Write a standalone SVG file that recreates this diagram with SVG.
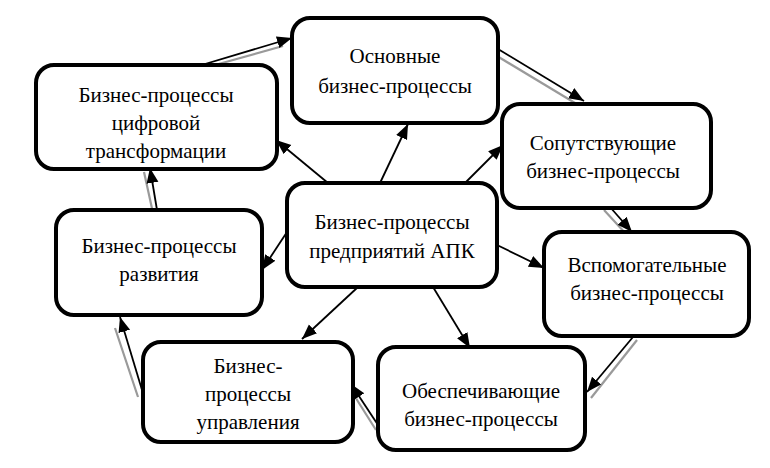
<svg xmlns="http://www.w3.org/2000/svg" width="770" height="468" viewBox="0 0 770 468">
<defs>
<marker id="ah" markerUnits="userSpaceOnUse" markerWidth="18" markerHeight="14" refX="15" refY="6" orient="auto">
<path d="M0,0 L15,6 L0,12 Z" fill="#000"/>
</marker>
<style>
.box{fill:#fff;stroke:#000;stroke-width:4}
.t{font-family:"Liberation Serif","Times New Roman",serif;font-size:21px;fill:#000;text-anchor:middle}
.a{stroke:#000;stroke-width:1.8;fill:none;marker-end:url(#ah)}
.g{stroke:#9a9a9a;stroke-width:2.2;fill:none}
</style>
</defs>
<rect width="770" height="468" fill="#fff"/>
<g id="connectors">
<line class="a" x1="380" y1="183" x2="408" y2="124"/>
<line class="a" x1="328" y1="183" x2="276" y2="140"/>
<line class="a" x1="465" y1="183" x2="503" y2="145"/>
<line class="a" x1="497" y1="245" x2="544" y2="268"/>
<line class="a" x1="433" y1="287" x2="470" y2="348"/>
<line class="a" x1="358" y1="287" x2="302" y2="339"/>
<line class="a" x1="287" y1="232" x2="262" y2="270"/>
<line class="g" x1="197" y1="70" x2="283" y2="46"/>
<line class="a" x1="195" y1="67" x2="292" y2="38"/>
<line class="g" x1="492" y1="53" x2="575" y2="103"/>
<line class="a" x1="498" y1="49" x2="584" y2="101"/>
<line class="g" x1="604" y1="210" x2="627" y2="235"/>
<line class="a" x1="610" y1="207" x2="632" y2="232"/>
<line class="g" x1="637" y1="340" x2="591" y2="398"/>
<line class="a" x1="633" y1="337" x2="587" y2="392"/>
<line class="g" x1="376" y1="430" x2="352" y2="392"/>
<line class="a" x1="378" y1="425" x2="351" y2="384"/>
<line class="g" x1="138" y1="397" x2="115" y2="328"/>
<line class="a" x1="142" y1="390" x2="120" y2="317"/>
<line class="g" x1="153" y1="213" x2="144" y2="172"/>
<line class="a" x1="157" y1="210" x2="150" y2="168"/>
</g>
<g id="n_main">
<rect class="box" x="292" y="18" width="206" height="105" rx="18"/>
<text class="t" x="395" y="63">Основные</text>
<text class="t" x="395" y="93">бизнес-процессы</text>
</g>
<g id="n_digital">
<rect class="box" x="36" y="65" width="241" height="104" rx="18"/>
<text class="t" x="156" y="102">Бизнес-процессы</text>
<text class="t" x="156" y="130">цифровой</text>
<text class="t" x="156" y="158">трансформации</text>
</g>
<g id="n_assoc">
<rect class="box" x="502" y="104" width="209" height="104" rx="18"/>
<text class="t" x="603" y="150">Сопутствующие</text>
<text class="t" x="603" y="178">бизнес-процессы</text>
</g>
<g id="n_center">
<rect class="box" x="287" y="183" width="210" height="104" rx="18"/>
<text class="t" x="392" y="229">Бизнес-процессы</text>
<text class="t" x="392" y="258">предприятий АПК</text>
</g>
<g id="n_dev">
<rect class="box" x="56" y="210" width="206" height="105" rx="18"/>
<text class="t" x="159" y="253">Бизнес-процессы</text>
<text class="t" x="159" y="281">развития</text>
</g>
<g id="n_aux">
<rect class="box" x="544" y="232" width="205" height="104" rx="18"/>
<text class="t" x="647" y="272">Вспомогательные</text>
<text class="t" x="647" y="300">бизнес-процессы</text>
</g>
<g id="n_mgmt">
<rect class="box" x="143" y="342" width="210" height="100" rx="18"/>
<text class="t" x="248" y="373">Бизнес-</text>
<text class="t" x="248" y="401">процессы</text>
<text class="t" x="248" y="429">управления</text>
</g>
<g id="n_supp">
<rect class="box" x="378" y="347" width="207" height="103" rx="18"/>
<text class="t" x="481" y="398">Обеспечивающие</text>
<text class="t" x="481" y="426">бизнес-процессы</text>
</g>
</svg>
